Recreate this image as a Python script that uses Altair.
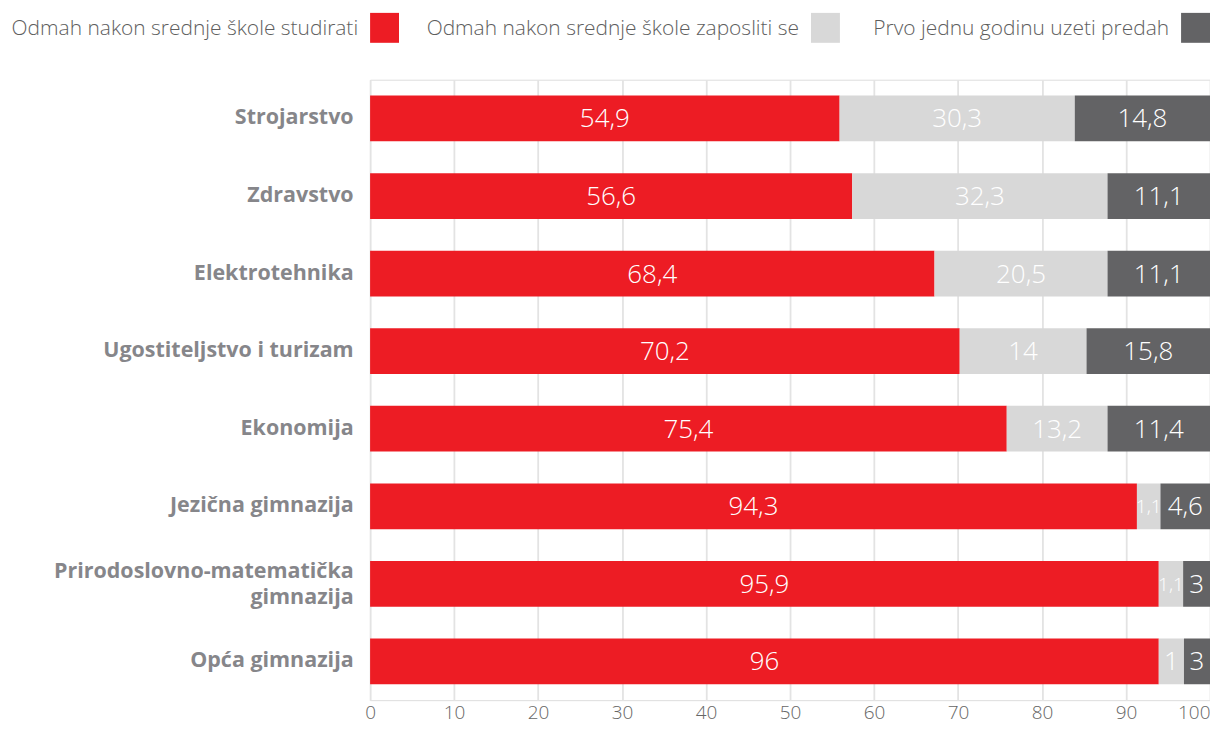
import altair as alt
import pandas as pd

categories = [
    "Strojarstvo",
    "Zdravstvo",
    "Elektrotehnika",
    "Ugostiteljstvo i turizam",
    "Ekonomija",
    "Jezična gimnazija",
    "Prirodoslovno-matematička gimnazija",
    "Opća gimnazija",
]
series = [
    "Odmah nakon srednje škole studirati",
    "Odmah nakon srednje škole zaposliti se",
    "Prvo jednu godinu uzeti predah",
]
colors = ["#ED1C24", "#D8D8D8", "#636365"]

# segment lengths as drawn in the picture (percent of the 0-100 axis)
studirati_bar = [55.9, 57.4, 67.2, 70.2, 75.8, 91.3, 93.9, 93.9]
zaposliti_bar = [28.0, 30.4, 20.6, 15.1, 12.0, 2.8, 2.9, 3.0]
predah_bar = [16.1, 12.2, 12.2, 14.7, 12.2, 5.9, 3.2, 3.1]

# values as printed on the bars
studirati_lbl = ["54,9", "56,6", "68,4", "70,2", "75,4", "94,3", "95,9", "96"]
zaposliti_lbl = ["30,3", "32,3", "20,5", "14", "13,2", "1,1", "1,1", "1"]
predah_lbl = ["14,8", "11,1", "11,1", "15,8", "11,4", "4,6", "3", "3"]

x_ticks = [0, 10, 20, 30, 40, 50, 60, 70, 80, 90, 100]

rows = []
bar_sets = [studirati_bar, zaposliti_bar, predah_bar]
lbl_sets = [studirati_lbl, zaposliti_lbl, predah_lbl]
for i, c in enumerate(categories):
    for k in range(3):
        rows.append({
            "category": c,
            "series": series[k],
            "order": k,
            "value": bar_sets[k][i],
            "label": lbl_sets[k][i],
        })
df = pd.DataFrame(rows)

FONT = "Open Sans"
WRAPPED = "Prirodoslovno-matematička gimnazija"

y_enc = alt.Y(
    "category:N",
    sort=categories,
    scale=alt.Scale(paddingInner=0.41, paddingOuter=0.205),
    axis=alt.Axis(
        title=None,
        domain=False,
        ticks=False,
        labelPadding=17,
        labelFont=FONT,
        labelFontSize=21.5,
        labelFontWeight="bold",
        labelColor="#86868a",
        labelLimit=400,
        labelLineHeight=26,
        labelOffset={"condition": {"test": f"datum.value == '{WRAPPED}'", "value": -12}, "value": 0},
        labelExpr=f"datum.label == '{WRAPPED}' ? ['Prirodoslovno-matematička', 'gimnazija'] : datum.label",
    ),
)

color_enc = alt.Color(
    "series:N",
    scale=alt.Scale(domain=series, range=colors),
    legend=None,
)

bars = alt.Chart(df).mark_bar(cornerRadius=0).encode(
    y=y_enc,
    x=alt.X(
        "value:Q",
        stack="zero",
        scale=alt.Scale(domain=[0, 100], nice=False),
        axis=alt.Axis(
            title=None,
            values=x_ticks,
            domain=False,
            ticks=False,
            grid=True,
            gridColor="#e3e3e3",
            gridWidth=1.8,
            labelPadding=3,
            labelFont=FONT,
            labelFontSize=19,
            labelFontWeight=300,
            labelColor="#666666",
            labelAlign={"condition": {"test": "datum.value == 100", "value": "right"}, "value": "center"},
        ),
    ),
    color=color_enc,
    order=alt.Order("order:Q"),
)

texts = alt.Chart(df).transform_stack(
    stack="value",
    groupby=["category"],
    as_=["x0", "x1"],
    sort=[alt.SortField("order", order="ascending")],
).transform_calculate(
    mid="(datum.x0 + datum.x1) / 2"
).mark_text(
    font=FONT, fontWeight=300, color="white", align="center", baseline="middle", dy=1
).encode(
    y=alt.Y("category:N", sort=categories),
    x=alt.X("mid:Q"),
    text="label:N",
    size=alt.condition(
        "datum.x1 - datum.x0 < 3.5 && length(datum.label) > 1", alt.value(19), alt.value(26)
    ),
)

# manual legend: label text followed by a colour square
sq_right = [29, 471, 842]
sq_w = 29
legend_layers = []
for k in range(3):
    ldf = pd.DataFrame({"s": [series[k]]})
    right = sq_right[k]
    legend_layers.append(
        alt.Chart(ldf).mark_text(
            font=FONT, fontSize=21, fontWeight=300, color="#5e5e5e", align="right", baseline="middle"
        ).encode(
            text="s:N",
            x=alt.value(right - sq_w - 12),
            y=alt.value(-51),
        )
    )
    legend_layers.append(
        alt.Chart(ldf).mark_rect(color=colors[k]).encode(
            x=alt.value(right - sq_w),
            x2=alt.value(right),
            y=alt.value(-67),
            y2=alt.value(-37),
        )
    )

chart = alt.layer(bars, texts, *legend_layers).properties(
    width=842,
    height=622,
    autosize=alt.AutoSizeParams(type="none"),
    padding={"left": 363, "top": 71, "right": 0, "bottom": 21},
).configure_view(strokeWidth=0).configure(font=FONT)

chart.save("out.html", embed_options={"renderer": "svg", "actions": False})
